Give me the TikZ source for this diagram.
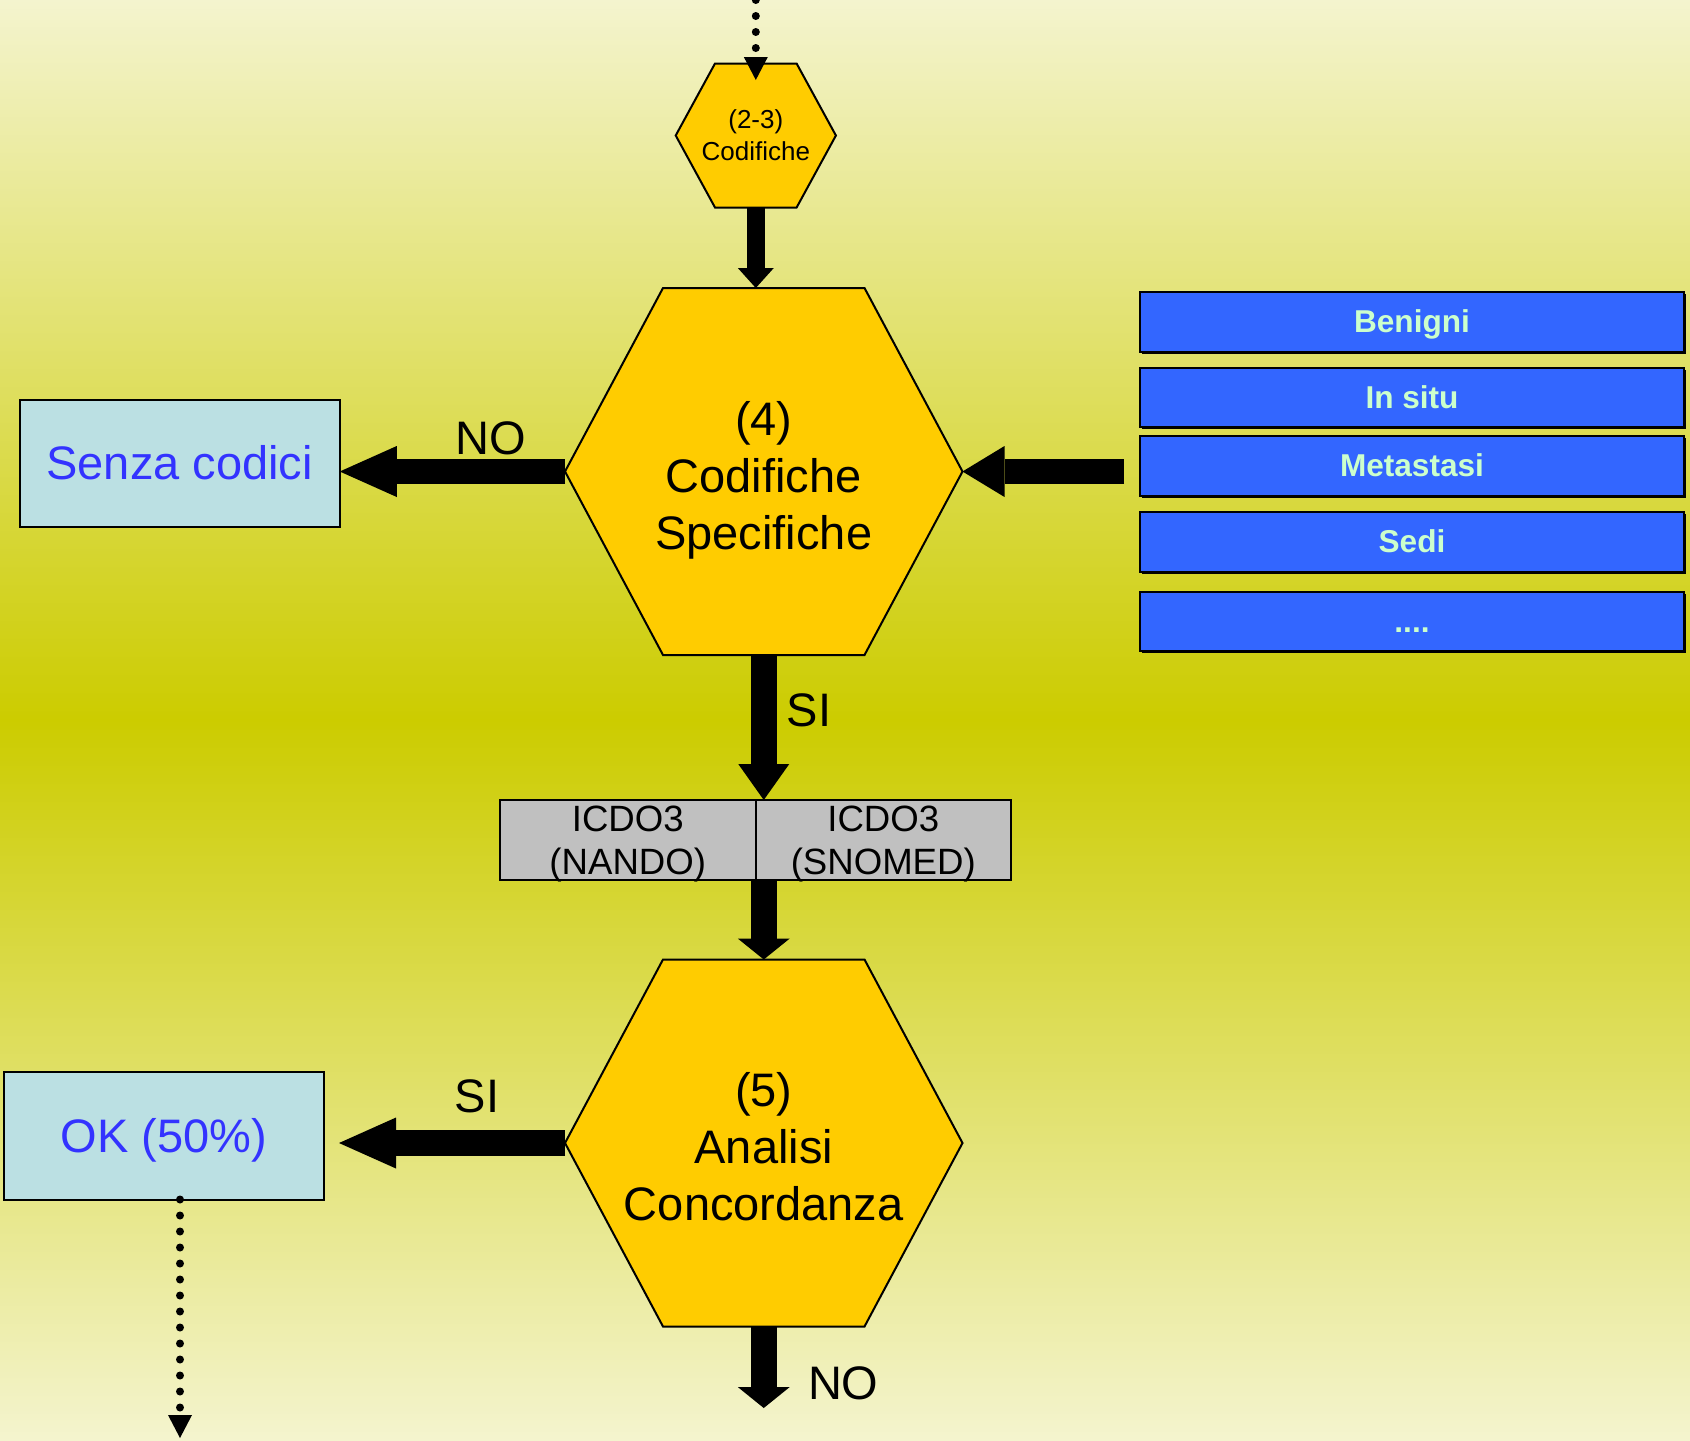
\documentclass[tikz,border=0pt]{standalone}
\usepackage{fontspec}
\setmainfont{Liberation Sans}
\usetikzlibrary{arrows.meta,shadows}

\definecolor{fondo}{RGB}{244,244,206}
\definecolor{oliva}{RGB}{204,204,0}
\definecolor{giallo}{RGB}{255,204,0}
\definecolor{celeste}{RGB}{187,224,227}
\definecolor{blutesto}{RGB}{51,51,255}
\definecolor{blu}{RGB}{51,102,255}
\definecolor{verdino}{RGB}{204,255,204}
\definecolor{grigio}{RGB}{192,192,192}

\newcommand{\senzaprof}[1]{\raisebox{0pt}[\height][0pt]{#1}}
\newcommand{\alza}{\rule{0pt}{20.5pt}}

\tikzset{
  hexa/.style={fill=giallo,draw=black,line width=1pt,line join=miter},
  hextext/.style={inner sep=0pt,outer sep=0pt,align=center,font=\fontsize{23.5}{28.5}\selectfont},
  esito/.style={draw=black,line width=1pt,fill=celeste,text=blutesto,inner sep=0pt,outer sep=0pt,
    text height=21.3pt,text depth=5pt,font=\fontsize{23.5}{28}\selectfont},
  voce/.style={draw=black,line width=1pt,fill=blu,text=verdino,minimum width=272pt,minimum height=29.75pt,
    inner sep=0pt,text height=14.3pt,text depth=3.35pt,font=\fontsize{15.8}{19}\selectfont\bfseries,
    drop shadow={shadow xshift=1pt,shadow yshift=-1pt,fill=black,opacity=1}},
  codice/.style={draw=black,line width=1pt,fill=grigio,minimum width=127.75pt,minimum height=39.75pt,
    inner sep=0pt,outer sep=0pt,align=center,font=\fontsize{18.3}{21.5}\selectfont},
  etichetta/.style={inner sep=0pt,font=\fontsize{23.5}{28}\selectfont},
  freccia/.style n args={3}{line width=#1,-{Triangle[length=#2,width=#3,line width=0pt]}},
  puntini/.style={line width=4pt,line cap=round,dash pattern=on 0pt off 8pt,
    -{Triangle[length=11.5pt,width=12pt,line width=0pt]}}
}

\begin{document}
\begin{tikzpicture}[x=0.5pt,y=-0.5pt]
\useasboundingbox (0,0) rectangle (1690,1440);
\shade[top color=fondo,bottom color=fondo,middle color=oliva] (0,0) rectangle (1690,1440);

% esagono piccolo (2-3)
\filldraw[hexa] (675.7,135.5) -- (715,63.5) -- (796.6,63.5) -- (835.9,135.5) -- (796.6,207.5) -- (715,207.5) -- cycle;
\node[hextext,font=\fontsize{13}{16}\selectfont,minimum width=80.1pt,minimum height=72pt] (cod23) at (755.8,135.5) {(2-3)\\Codifiche};

% esagono (4)
\filldraw[hexa] (565,471.5) -- (663,288) -- (864.5,288) -- (962.5,471.5) -- (864.5,655) -- (663,655) -- cycle;
\node[hextext,minimum width=198.75pt,minimum height=183.5pt] (cod) at (763.75,471.5) {\alza(4)\\Codifiche\\\senzaprof{Specifiche}};

% esagono (5)
\filldraw[hexa] (565,1143) -- (663,959.5) -- (864.5,959.5) -- (962.5,1143) -- (864.5,1326.5) -- (663,1326.5) -- cycle;
\node[hextext,minimum width=198.75pt,minimum height=183.5pt] (conc) at (763.75,1143) {\alza(5)\\Analisi\\Concordanza};

% riquadri a sinistra
\node[esito,minimum width=160pt,minimum height=63.65pt] (senza) at (179.75,463.65) {Senza codici};
\node[esito,minimum width=160.25pt,minimum height=63.75pt] (ok) at (163.75,1135.75) {OK (50\%)};

% ICDO3
\node[codice] (nando) at (627.75,839.75) {ICDO3\\\senzaprof{(NANDO)}};
\node[codice] (snomed) at (883.25,839.75) {ICDO3\\\senzaprof{(SNOMED)}};

% elenco a destra
\node[voce] (ben) at (1412,321.75) {Benigni};
\node[voce] (situ) at (1412,397.25) {In situ};
\node[voce] (meta) at (1412,465.75) {Metastasi};
\node[voce] (sedi) at (1412,541.75) {Sedi};
\node[voce] (altro) at (1412,621.5) {....};

% frecce
\coordinate (inizio) at (755.8,0);
\coordinate (fine) at (763.75,1408);
\coordinate (okfine) at (180,1438);
\draw[puntini] (inizio) -- ([yshift=-8.25pt]cod23.north);
\draw[freccia={9pt}{10pt}{18pt}] (cod23.south) -- (cod23.south |- cod.north);
\draw[freccia={12.75pt}{28.5pt}{25.5pt}] (cod.west) -- (senza.east |- cod.west);
\draw[freccia={12.75pt}{21pt}{25.5pt}] ([xshift=-7.5pt]meta.west |- cod.east) -- (cod.east);
\draw[freccia={13pt}{18pt}{25.5pt}] (cod.south) -- (cod.south |- nando.north);
\draw[freccia={13pt}{10.5pt}{26pt}] (cod.south |- nando.south) -- (conc.north);
\draw[freccia={12.75pt}{28.5pt}{25.5pt}] (conc.west) -- ([xshift=7.5pt]ok.east |- conc.west);
\draw[freccia={13pt}{10.5pt}{26pt}] (conc.south) -- (fine);
\draw[puntini] (ok.south -| okfine) -- (okfine);

% etichette
\node[etichetta] (no1) at (490.4,438.7) {NO};
\node[etichetta] (si1) at (809,710.7) {SI};
\node[etichetta] (si2) at (477,1096) {SI};
\node[etichetta] (no2) at (843.3,1383.3) {NO};
\end{tikzpicture}
\end{document}
